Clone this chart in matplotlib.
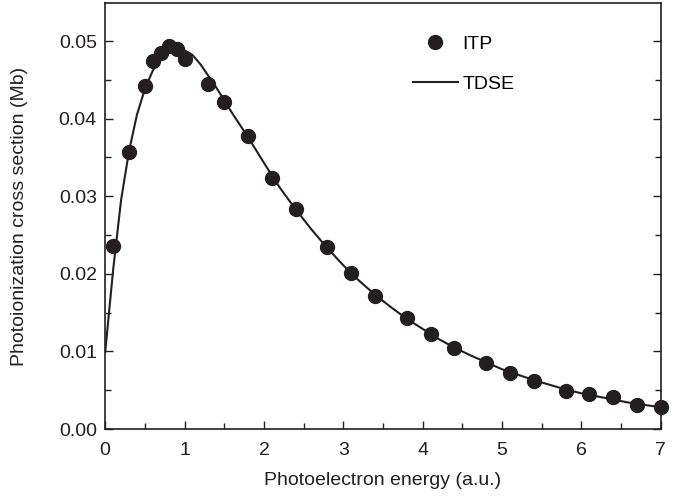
import matplotlib
matplotlib.use("Agg")
import matplotlib.pyplot as plt
from matplotlib.ticker import MultipleLocator, FormatStrFormatter

plt.rcParams['font.family'] = ['Liberation Sans', 'DejaVu Sans']

itp_x = [0.1, 0.3, 0.5, 0.6, 0.7, 0.8, 0.9, 1.0, 1.3, 1.5, 1.8, 2.1, 2.4, 2.8, 3.1,
         3.4, 3.8, 4.1, 4.4, 4.8, 5.1, 5.4, 5.8, 6.1, 6.4, 6.7, 7.0]
itp_y = [0.0236, 0.0357, 0.0442, 0.0474, 0.0485, 0.0494, 0.0490, 0.0477, 0.0445, 0.0421,
         0.0378, 0.0323, 0.0284, 0.0235, 0.0201, 0.0171, 0.0143, 0.0122, 0.0104, 0.0085,
         0.0072, 0.0062, 0.0049, 0.0045, 0.0041, 0.0031, 0.0028]

tdse_x = [0.0, 0.1, 0.2, 0.3, 0.4, 0.5, 0.6, 0.7, 0.8, 0.9, 1.0, 1.1, 1.2, 1.4, 1.6, 1.8,
          2.0, 2.2, 2.4, 2.6, 2.8, 3.0, 3.2, 3.4, 3.6, 3.8, 4.0, 4.2, 4.4, 4.6, 4.8, 5.0,
          5.2, 5.4, 5.6, 5.8, 6.0, 6.2, 6.4, 6.6, 6.8, 7.0]
tdse_y = [0.0099, 0.0205, 0.0295, 0.0358, 0.0405, 0.0438, 0.0462, 0.0478, 0.0487, 0.0490,
          0.0488, 0.0482, 0.0470, 0.0440, 0.0407, 0.0376, 0.0343, 0.0311, 0.0283, 0.0257,
          0.0233, 0.0211, 0.0191, 0.0173, 0.0157, 0.0142, 0.0129, 0.0116, 0.0105, 0.0095,
          0.0086, 0.0077, 0.0070, 0.0063, 0.0057, 0.0051, 0.0046, 0.0042, 0.0038, 0.0034,
          0.0031, 0.0028]

col = '#231f20'
fs = 14
fig = plt.figure(figsize=(6.92, 4.96), dpi=100)
ax = fig.add_axes([0.152, 0.135, 0.803, 0.859])

ax.plot(tdse_x, tdse_y, color=col, lw=1.5, label='TDSE', zorder=2)
ax.plot(itp_x, itp_y, 'o', color=col, ms=10, label='ITP', zorder=3, clip_on=False)

ax.set_xlim(0, 7)
ax.set_ylim(0, 0.0549)
ax.xaxis.set_major_locator(MultipleLocator(1))
ax.xaxis.set_minor_locator(MultipleLocator(0.5))
ax.yaxis.set_major_locator(MultipleLocator(0.01))
ax.yaxis.set_minor_locator(MultipleLocator(0.005))
ax.yaxis.set_major_formatter(FormatStrFormatter('%.2f'))
ax.tick_params(which='both', direction='in', top=False, right=True, labelsize=fs, colors=col)
ax.tick_params(which='major', length=6, width=1, pad=6)
ax.tick_params(axis='x', which='major', pad=9)
ax.tick_params(which='minor', length=4, width=1)
for s in ax.spines.values():
    s.set_color(col)
    s.set_linewidth(1.2)

ax.set_xlabel('Photoelectron energy (a.u.)', fontsize=fs, color=col, labelpad=10)
ax.set_ylabel('Photoionization cross section (Mb)', fontsize=fs, color=col, labelpad=22)

h, l = ax.get_legend_handles_labels()
ax.legend([h[1], h[0]], [l[1], l[0]], loc='upper left', bbox_to_anchor=(0.554, 0.925),
          frameon=False, fontsize=fs, handlelength=2.3, labelspacing=1.16, handletextpad=0.25,
          borderpad=0, borderaxespad=0)

fig.savefig('out.png', dpi=100)
